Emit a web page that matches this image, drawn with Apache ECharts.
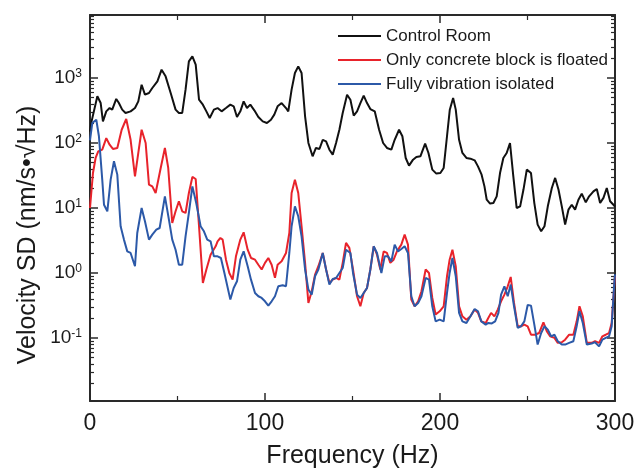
<!DOCTYPE html>
<html><head><meta charset="utf-8">
<script src="https://cdn.jsdelivr.net/npm/echarts@6/dist/echarts.min.js"></script>
<style>html,body{margin:0;padding:0;background:#fff}#c{width:638px;height:470px}</style>
</head><body><div id="c"></div>
<script>
const seriesNames = ['Control Room', 'Only concrete block is floated', 'Fully vibration isolated'];

// [frequency (Hz), velocity SD (nm/s·√Hz)]
const controlRoom = [[0,150],[0.9,215],[4.2,523],[6.1,412],[7.4,215],[9.3,307],[11.2,345],[12.7,326],[15.0,476],[16.5,412],[18.4,326],[20.3,290],[23.2,307],[25.7,345],[27.6,437],[29.5,789],[31.4,554],[33.7,588],[35.6,702],[38.5,889],[40.9,1344],[43.2,1061],[46.1,588],[48.9,326],[50.8,290],[52.7,290],[54.6,662],[56.5,1803],[58.5,2154],[60.4,1603],[62.3,464],[64.5,389],[66.5,307],[68.4,243],[70.8,326],[72.9,345],[75.2,307],[77.7,345],[80.2,389],[82.1,367],[84.0,251],[85.9,307],[87.8,437],[89.7,345],[91.6,389],[93.9,318],[96.2,251],[98.7,215],[101.1,203],[103.4,228],[105.3,273],[107.2,367],[109.5,412],[112.0,345],[113.3,307],[115.2,662],[117.1,1194],[119.0,1510],[120.9,1194],[122.9,257],[124.8,100],[127.2,62.4],[129.1,83.8],[131.1,80.9],[133.0,112],[134.9,106],[136.8,78.9],[138.7,66.2],[140.6,100],[142.5,160],[144.4,290],[146.9,554],[148.8,464],[150.7,264],[152.6,307],[154.5,412],[156.4,535],[158.3,412],[160.2,333],[162.7,307],[165.2,160],[167.5,100],[169.7,83.8],[172.2,78.9],[174.1,112],[176.6,160],[178.5,127],[180.4,58.8],[182.3,44.8],[184.6,55.4],[186.5,60.9],[188.8,62.4],[191.5,97.7],[193.4,70.2],[195.6,38.9],[197.9,33.8],[200.2,34.5],[202.1,41.3],[204.0,127],[205.6,326],[207.5,492],[209.0,326],[210.9,112],[212.8,70.2],[215.1,58.8],[217.4,57.4],[219.8,54.1],[221.7,43.7],[223.7,33],[225.4,21.5],[226.7,13.4],[228.6,11.7],[230.5,11.9],[232.4,15.1],[234.3,34.5],[236.2,58.8],[238.1,70.2],[240.0,100],[241.9,30.7],[243.8,10.0],[245.8,10.6],[247.7,19.2],[249.6,38.9],[252.0,34.5],[253.9,11.9],[255.8,5.54],[257.8,4.38],[259.7,5.23],[261.6,10.6],[263.9,20.3],[265.8,29.0],[267.7,19.2],[269.6,10.6],[271.5,5.54],[273.4,9.42],[275.3,11.2],[277.2,9.42],[279.1,13.4],[281.0,16.6],[283.3,12.2],[285.2,15.1],[287.7,18.0],[289.6,19.6],[291.5,11.9],[293.4,14.3],[295.3,20.3],[297.2,12.7],[299.1,11.2],[300,10.5]];

const concreteFloated = [[0,10],[1.7,34.5],[3.2,58.8],[4.7,74.5],[7.0,78.9],[9.3,119],[11.2,94.2],[13.1,80.9],[15.6,83.8],[18.1,160],[20.7,234],[23.2,112],[25.7,30.7],[27.6,70.2],[29.5,160],[31.8,100],[33.7,22.9],[35.6,21.5],[37.5,17.0],[40.4,41.3],[42.8,83.8],[44.7,41.3],[47.0,5.88],[48.9,8.89],[50.8,12.7],[52.7,8.89],[54.6,8.38],[56.5,17.0],[58.5,30.0],[60.4,27.9],[62.3,5.23],[64.5,0.70],[66.5,1.13],[68.9,1.91],[71.8,2.57],[72.9,3.07],[74.5,3.45],[75.8,3.26],[77.7,1.60],[79.6,1.0],[81.5,0.79],[83.4,1.80],[85.9,3.26],[87.8,4.22],[90.1,2.28],[92.0,1.70],[94.3,1.60],[96.2,1.34],[98.1,1.13],[100.0,1.43],[101.9,1.70],[103.8,1.34],[105.7,0.84],[107.2,1.34],[109.5,1.51],[112.0,2.03],[113.9,4.12],[115.2,17.0],[117.1,27.3],[119.0,17.0],[120.9,5.23],[122.9,1.43],[124.8,0.345],[126.7,0.522],[128.6,0.94],[130.5,1.27],[133.0,2.03],[134.9,1.13],[136.8,0.702],[138.7,0.789],[140.6,0.838],[142.5,0.789],[144.4,1.43],[146.3,2.90],[148.2,2.43],[150.3,1.13],[152.6,0.438],[154.5,0.307],[156.4,0.492],[158.3,0.588],[160.2,1.13],[162.1,2.57],[164.0,1.91],[165.9,1.13],[167.8,2.15],[169.7,2.03],[171.6,1.43],[173.5,1.60],[175.4,2.15],[177.9,2.73],[179.8,3.89],[181.7,2.73],[183.6,0.389],[185.5,0.307],[187.5,0.366],[189.4,0.522],[191.8,1.13],[193.7,1.0],[195.6,0.412],[197.5,0.229],[199.8,0.257],[202.1,0.307],[204.0,0.889],[205.5,1.60],[207.1,2.28],[209.0,1.27],[210.9,0.307],[212.8,0.215],[215.1,0.191],[217.4,0.215],[219.8,0.273],[221.7,0.243],[223.6,0.180],[226.1,0.170],[227.6,0.203],[229.2,0.243],[231.1,0.215],[233.0,0.273],[234.9,0.366],[236.8,0.464],[238.7,0.624],[240.4,0.868],[242.3,0.345],[244.4,0.151],[246.3,0.151],[248.2,0.160],[250.1,0.151],[252.0,0.112],[254.3,0.112],[256.6,0.119],[259.1,0.174],[261.0,0.127],[262.9,0.106],[265.4,0.100],[267.3,0.084],[269.6,0.086],[271.5,0.094],[273.8,0.112],[276.2,0.112],[278.1,0.180],[279.7,0.307],[281.6,0.215],[283.9,0.084],[286.7,0.084],[288.6,0.089],[290.9,0.084],[292.8,0.106],[294.7,0.112],[296.6,0.119],[298.1,0.170],[299.7,0.702],[300,0.9]];

const fullyIsolated = [[0,110],[1.3,203],[3.6,228],[5.1,127],[7.0,27.3],[8.0,11.2],[9.9,8.89],[11.8,27.3],[13.7,52.3],[15.6,32.6],[17.5,5.23],[19.4,3.26],[21.3,2.15],[23.2,2.03],[25.7,1.27],[27.0,4.12],[29.5,10.0],[31.4,6.24],[33.7,3.26],[35.6,3.89],[37.9,4.64],[39.8,4.92],[42.8,15.1],[45.1,6.62],[47.0,3.26],[48.9,2.28],[50.8,1.34],[52.7,1.34],[54.6,3.66],[56.5,8.38],[58.5,21.5],[60.7,11.9],[63.2,5.23],[65.1,4.38],[67.0,3.26],[68.9,3.07],[70.8,1.80],[72.9,1.80],[74.8,1.70],[76.8,1.0],[80.2,0.389],[82.1,0.588],[84.0,0.744],[85.9,1.60],[87.8,2.15],[90.1,1.27],[92.0,0.789],[94.3,0.492],[96.2,0.438],[98.1,0.412],[100.0,0.366],[101.9,0.314],[103.8,0.366],[105.7,0.438],[107.6,0.624],[110.1,0.646],[112.0,0.624],[113.9,2.03],[115.2,5.23],[117.1,10.6],[119.0,7.45],[120.9,3.66],[122.9,1.13],[124.8,0.555],[126.7,0.464],[128.6,0.889],[130.5,1.13],[133.0,2.03],[134.9,1.13],[136.8,0.662],[138.7,0.809],[140.6,0.838],[142.5,1.0],[144.4,1.19],[146.3,2.28],[148.8,2.03],[150.3,1.0],[152.6,0.464],[154.5,0.412],[156.4,0.492],[158.3,0.588],[160.2,1.13],[162.1,2.57],[164.0,2.03],[166.5,1.0],[168.4,1.80],[170.3,1.80],[172.2,1.51],[174.1,2.73],[176.0,2.15],[177.9,2.34],[179.8,2.57],[181.7,2.03],[183.6,0.438],[185.5,0.307],[187.5,0.345],[189.4,0.438],[191.8,0.838],[193.7,0.789],[195.6,0.307],[197.5,0.180],[199.8,0.191],[202.1,0.180],[204.0,0.492],[205.5,1.0],[207.1,1.70],[209.0,0.889],[210.9,0.243],[212.8,0.180],[215.1,0.170],[217.4,0.215],[219.8,0.279],[221.7,0.257],[223.6,0.180],[226.1,0.160],[227.6,0.170],[229.6,0.167],[231.5,0.180],[233.4,0.243],[234.9,0.464],[236.8,0.624],[238.7,0.438],[240.4,0.662],[242.3,0.307],[244.4,0.143],[246.3,0.151],[248.2,0.180],[250.1,0.322],[252.0,0.314],[253.9,0.160],[255.8,0.079],[257.8,0.119],[259.7,0.151],[261.6,0.134],[263.5,0.106],[265.4,0.112],[267.3,0.089],[269.6,0.079],[271.5,0.079],[273.8,0.084],[276.2,0.089],[278.1,0.151],[279.7,0.257],[281.6,0.170],[283.9,0.079],[286.7,0.082],[288.6,0.086],[290.9,0.074],[292.8,0.094],[294.7,0.100],[296.6,0.106],[298.1,0.151],[299.7,0.789],[300,0.95]];

const xTickLabels = [0, 100, 200, 300];
const yLabelExponents = [-1, 0, 1, 2, 3];
const xRange = [0, 300];
const yRange = [0.0107, 9330];
const xTitle = 'Frequency (Hz)';
const yTitle = 'Velocity SD (nm/s•√Hz)';

const FONT = '"Liberation Sans", Arial, sans-serif';
const TXT = '#1a1a1a';
const AX = '#2a2a2a';
const colors = ['#111111', '#e8232b', '#2c59a8'];

const logMin = Math.log10(yRange[0]), logMax = Math.log10(yRange[1]);
const minorLog = [];
for (let d = Math.floor(logMin); d < Math.ceil(logMax); d++)
  for (let k = 2; k < 10; k++) {
    const t = d + Math.log10(k);
    if (t > logMin && t < logMax) minorLog.push(t);
  }

function yLabel(v) {
  const e = Math.log10(v);
  const r = Math.round(e);
  if (Math.abs(e - r) > 1e-6 || !yLabelExponents.includes(r)) return '';
  return '{b|10}{s|' + r + '}';
}

const axLine = { show: true, onZero: false, lineStyle: { color: AX, width: 2 } };
const majTick = { show: true, inside: true, length: 8, lineStyle: { color: AX, width: 1.5 } };
const minTickStyle = { color: AX, width: 1.2 };

const xBase = (pos, labels) => ({
  type: 'value', min: xRange[0], max: xRange[1], interval: 100, position: pos,
  axisLine: axLine, axisTick: majTick,
  minorTick: { show: true, splitNumber: 2, length: 5, lineStyle: minTickStyle },
  splitLine: { show: false }, minorSplitLine: { show: false },
  axisLabel: labels ? { show: true, fontSize: 23, color: TXT, fontFamily: FONT, margin: 11,
    formatter: v => xTickLabels.includes(v) ? String(v) : '' } : { show: false }
});

const chart = echarts.init(document.getElementById('c'), null, { renderer: 'canvas' });
chart.setOption({
  animation: false,
  backgroundColor: '#fff',
  grid: { left: 90, right: 23, top: 15, bottom: 69, containLabel: false, outerBoundsMode: 'none' },
  legend: {
    data: seriesNames, orient: 'vertical', left: 338, top: 26, padding: 0,
    icon: 'rect', itemWidth: 43, itemHeight: 2, itemGap: 4,
    textStyle: { fontSize: 17, lineHeight: 20, color: TXT, fontFamily: FONT }
  },
  graphic: [{
    type: 'text', x: 28, y: 235, rotation: Math.PI / 2, silent: true,
    style: { text: yTitle, fontSize: 25, fill: TXT, fontFamily: FONT, align: 'center', verticalAlign: 'middle' }
  }],
  xAxis: [
    Object.assign(xBase('bottom', true), { name: xTitle, nameLocation: 'middle', nameGap: 43,
      nameTextStyle: { fontSize: 25, color: TXT, fontFamily: FONT } }),
    xBase('top', false)
  ],
  yAxis: [
    { type: 'log', logBase: 10, min: yRange[0], max: yRange[1], position: 'left',
      axisLine: axLine, axisTick: majTick, splitLine: { show: false },
      axisLabel: { formatter: yLabel, margin: 8, color: TXT, fontFamily: FONT,
        rich: { b: { fontSize: 19, lineHeight: 20, color: TXT, fontFamily: FONT },
                s: { fontSize: 12, lineHeight: 12, verticalAlign: 'top', color: TXT, fontFamily: FONT } } } },
    { type: 'value', min: logMin, max: logMax, position: 'left',
      axisLine: { show: false, onZero: false },
      axisTick: { show: true, inside: true, length: 4, customValues: minorLog, lineStyle: minTickStyle },
      axisLabel: { show: false }, splitLine: { show: false } },
    { type: 'log', logBase: 10, min: yRange[0], max: yRange[1], position: 'right',
      axisLine: axLine, axisTick: majTick, splitLine: { show: false }, axisLabel: { show: false } },
    { type: 'value', min: logMin, max: logMax, position: 'right',
      axisLine: { show: false, onZero: false },
      axisTick: { show: true, inside: true, length: 4, customValues: minorLog, lineStyle: minTickStyle },
      axisLabel: { show: false }, splitLine: { show: false } }
  ],
  series: [controlRoom, concreteFloated, fullyIsolated].map((d, i) => ({
    name: seriesNames[i], type: 'line', data: d, xAxisIndex: 0, yAxisIndex: 0,
    symbol: 'none', smooth: false, color: colors[i],
    lineStyle: { color: colors[i], width: 2 }
  }))
});
</script></body></html>
